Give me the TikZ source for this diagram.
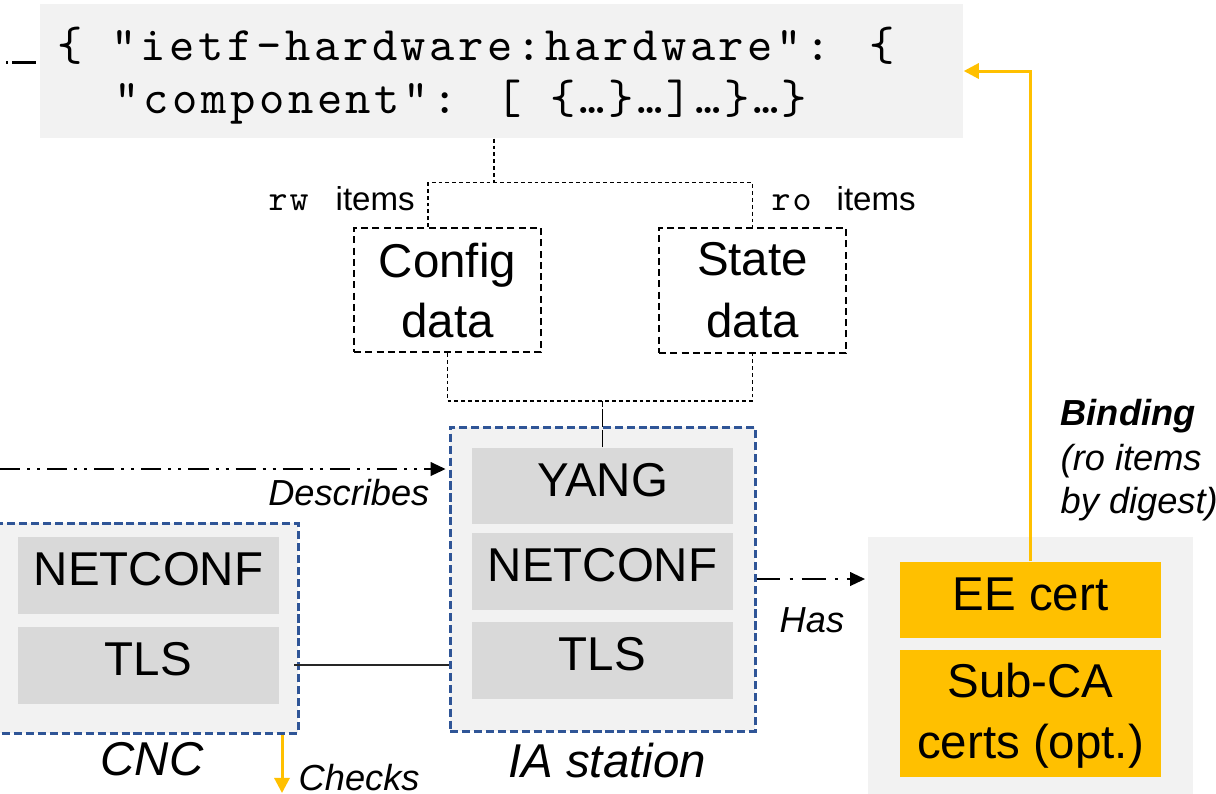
\documentclass[tikz,border=0pt]{standalone}
\usepackage{fontspec}
\setmainfont{Liberation Sans}
\newfontfamily\jmono{lmmono10-regular.otf}[LetterSpace=7.5]
\newfontfamily\smono{lmmono10-regular.otf}[LetterSpace=5]
\usetikzlibrary{arrows.meta,fit,calc}
\definecolor{grayF}{HTML}{F2F2F2}
\definecolor{grayD}{HTML}{D9D9D9}
\definecolor{yel}{HTML}{FFC000}
\definecolor{blueB}{HTML}{2F5597}
\newcommand\bigf{\fontsize{13.5}{16.5}\selectfont}
\newcommand\midf{\fontsize{10.3}{12.8}\selectfont}
\newcommand\smallf{\fontsize{9.4}{11}\selectfont}
\newcommand\jsonf{\jmono\fontsize{13.7}{15}\selectfont}
\begin{document}
\begin{tikzpicture}[x=0.01cm,y=-0.01cm,
  gfill/.style={fill=grayF, draw=none, inner sep=0pt},
  inbox/.style={fill=grayD, draw=none, inner sep=0pt},
  certbox/.style={fill=yel, draw=none, inner sep=0pt},
  bluebox/.style={draw=blueB, fill=grayF, line width=0.85pt, dash pattern=on 2.3pt off 1.1pt, inner sep=0pt},
  databox/.style={draw=black, line width=0.6pt, dash pattern=on 2pt off 1.2pt, inner sep=0pt},
  bigtxt/.style={font=\bigf, inner sep=0pt, anchor=base},
  thindash/.style={draw=black, line width=0.4pt, dash pattern=on 1.1pt off 0.85pt},
  dashdotdot/.style={draw=black, line width=0.8pt, dash pattern=on 5.7pt off 2pt on 0.85pt off 2pt on 0.85pt off 2pt},
  dashdotone/.style={draw=black, line width=0.8pt, dash pattern=on 6.8pt off 2.6pt on 0.85pt off 2.6pt},
  blktip/.style={-{Triangle[length=4.3pt,width=3.8pt]}},
  yarrow/.style={draw=yel, line width=0.85pt, -{Triangle[length=4.3pt,width=4.3pt]}},
  lbl/.style={font=\midf\itshape, inner sep=0pt},
  biglbl/.style={font=\bigf\itshape, inner sep=0pt},
  smlbl/.style={font=\smallf, inner sep=0pt}]
\useasboundingbox (0,0) rectangle (1216,793);
\clip (0,0) rectangle (1216,793);

% JSON box
\node[gfill, fit={(40,4) (963,138)}] (json) {};
\node[anchor=base west, inner sep=0pt, font=\jsonf] (jl1) at (57,60) {\{ "ietf-hardware:hardware": \{};
\node[anchor=base west, inner sep=0pt, font=\jsonf] (jl2) at (114,113) {"component": [ \{…\}…]…\}…\}};
\coordinate (jl) at (6,62);
\draw[line width=0.85pt, dash pattern=on 0.7pt off 1.1pt on 6.8pt off 10pt] (jl) -- (json.west |- jl);

% data boxes
\node[databox, fit={(354,228) (541,352)}] (cfg) {};
\node[bigtxt] (cfg1) at ($(cfg.center)+(0,-13)$) {Config};
\node[bigtxt] (cfg2) at ($(cfg.center)+(0,47)$) {data};
\node[databox, fit={(659,228) (846,353)}] (st) {};
\node[bigtxt] (st1) at ($(st.center)+(0,-15)$) {State};
\node[bigtxt] (st2) at ($(st.center)+(0,47)$) {data};

\node[smlbl, anchor=base west, font=\smono\fontsize{10.3}{11}\selectfont] (rw) at (268,210) {rw};
\node[smlbl, anchor=base west] (rwi) at (335,210) {items};
\node[smlbl, anchor=base west, font=\smono\fontsize{10.3}{11}\selectfont] (ro) at (771,210) {ro};
\node[smlbl, anchor=base west] (roi) at (836,210) {items};

% IA station
\node[bluebox, fit={(450,427) (755,731)}] (ia) {};
\node[inbox, fit={(472,448) (733,524)}] (yang) {};
\node[bigtxt] (yangt) at ($(yang.center)+(0,10)$) {YANG};
\node[inbox, fit={(472,533) (733,610)}] (ianc) {};
\node[bigtxt] (iancf) at ($(ianc.center)+(0,10)$) {NETCONF};
\node[inbox, fit={(472,622) (733,699)}] (iatls) {};
\node[bigtxt] (iatlst) at ($(iatls.center)+(0,10)$) {TLS};
\node[biglbl, anchor=base] (ialbl) at (607,777) {IA station};

% CNC
\node[bluebox, fit={(-10,523) (298,733)}] (cnc) {};
\node[inbox, fit={(18,537) (279,614)}] (cncnc) {};
\node[bigtxt] (cncnct) at ($(cncnc.center)+(0,10)$) {NETCONF};
\node[inbox, fit={(18,627) (279,704)}] (cnctls) {};
\node[bigtxt] (cnctlst) at ($(cnctls.center)+(0,10)$) {TLS};
\node[biglbl, anchor=base] (cnclbl) at (152,775) {CNC};

% certificates
\node[gfill, fit={(868,537) (1193,800)}] (cert) {};
\node[certbox, fit={(900,562) (1161,638)}] (ee) {};
\node[bigtxt] (eet) at ($(ee.center)+(0,10)$) {EE cert};
\node[certbox, fit={(900,650) (1161,777)}] (sub) {};
\node[bigtxt] (sub1) at ($(sub.center)+(0,-16)$) {Sub-CA};
\node[bigtxt] (sub2) at ($(sub.center)+(0,45)$) {certs (opt.)};

% connectors json -> data
\draw[thindash] ([xshift=-0.075cm]json.south) -- ++(0,44) coordinate (tb);
\draw[thindash] ([xshift=-0.195cm]cfg.north) |- (tb) -| (st.north);
\draw[thindash] (cfg.south) -- ++(0,48) coordinate (bb) -| (st.south);
\draw[draw=black, line width=0.4pt, dash pattern=on 5pt off 0.8pt] (yang.north) -- (yang.north |- bb);

% Describes
\coordinate (dl) at (0,469);
\draw[dashdotdot, blktip, shorten >=0.8pt] (dl) -- (ia.west |- dl);
\node[lbl, anchor=base east] (desc) at (430,505) {Describes};

% Has
\coordinate (hy) at (0,579);
\draw[dashdotone, blktip, shorten >=0.6pt] (ia.east |- hy) -- (cert.west |- hy);
\node[lbl, anchor=base west] (has) at (779,632) {Has};

% CNC TLS to IA
\coordinate (ty) at (0,665);
\draw[line width=0.5pt, draw=black!85] ([xshift=-0.05cm]cnc.east |- ty) -- (ia.west |- ty);

% Checks
\coordinate (chk) at (282,793);
\draw[yarrow] (chk |- cnc.south) -- (chk);
\node[lbl, anchor=base west] (checks) at (298,790) {Checks};

% Binding
\draw[yarrow] (ee.north) |- (json.east);
\node[lbl, anchor=base west, font=\midf\bfseries\itshape] (b1) at (1060,425) {Binding};
\node[lbl, anchor=base west] (b2) at (1060,470) {(ro items};
\node[lbl, anchor=base west] (b3) at (1060,513) {by digest)};
\end{tikzpicture}
\end{document}
